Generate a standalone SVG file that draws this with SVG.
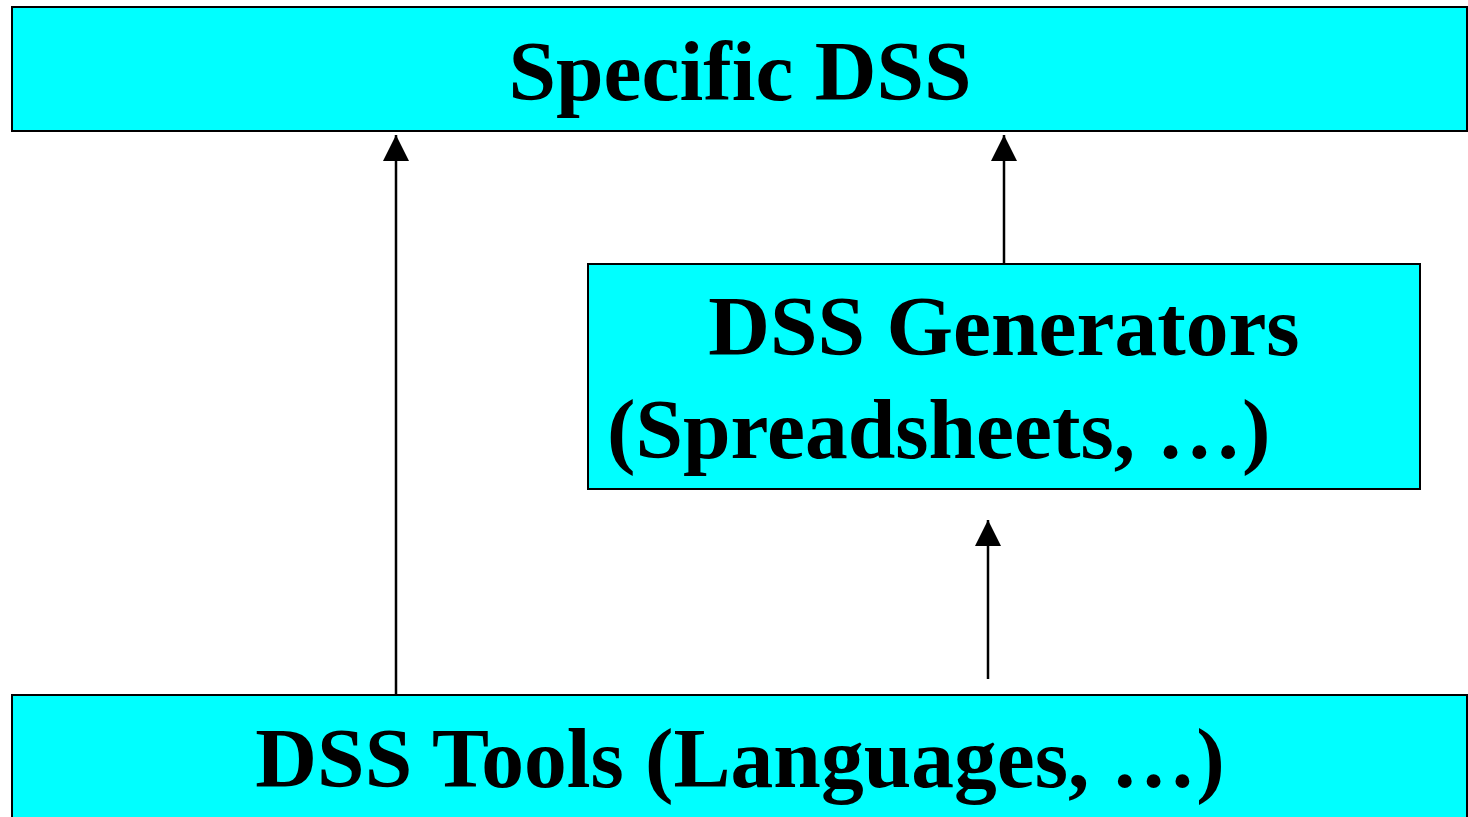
<svg xmlns="http://www.w3.org/2000/svg" width="1468" height="817" viewBox="0 0 1468 817">
<style>
.box{fill:#00ffff;stroke:#000;stroke-width:2}
.t{font-family:"Liberation Serif","Times New Roman",serif;font-weight:bold;font-size:85.5px;fill:#000}
.c{stroke:#000;stroke-width:2.5;fill:none}
</style>
<defs>
<marker id="ah" markerUnits="userSpaceOnUse" markerWidth="28" markerHeight="28" refX="26" refY="13" orient="auto">
<path d="M0,0 L26,13 L0,26 Z" fill="#000"/>
</marker>
</defs>
<rect width="1468" height="817" fill="#fff"/>
<g id="specific-dss">
<rect class="box" x="12" y="7" width="1455" height="124"/>
<text class="t" x="740" y="100" text-anchor="middle">Specific DSS</text>
</g>
<g id="dss-generators">
<rect class="box" x="588" y="264" width="832" height="225"/>
<text class="t" x="1004" y="355" text-anchor="middle">DSS Generators</text>
<text class="t" x="607" y="458">(Spreadsheets, …)</text>
</g>
<g id="dss-tools">
<rect class="box" x="12" y="695" width="1455" height="130"/>
<text class="t" x="740" y="787" text-anchor="middle">DSS Tools (Languages, …)</text>
</g>
<g id="connectors">
<line class="c" x1="396" y1="695" x2="396" y2="135" marker-end="url(#ah)"/>
<line class="c" x1="1004" y1="264" x2="1004" y2="135" marker-end="url(#ah)"/>
<line class="c" x1="988" y1="679" x2="988" y2="520" marker-end="url(#ah)"/>
</g>
</svg>
